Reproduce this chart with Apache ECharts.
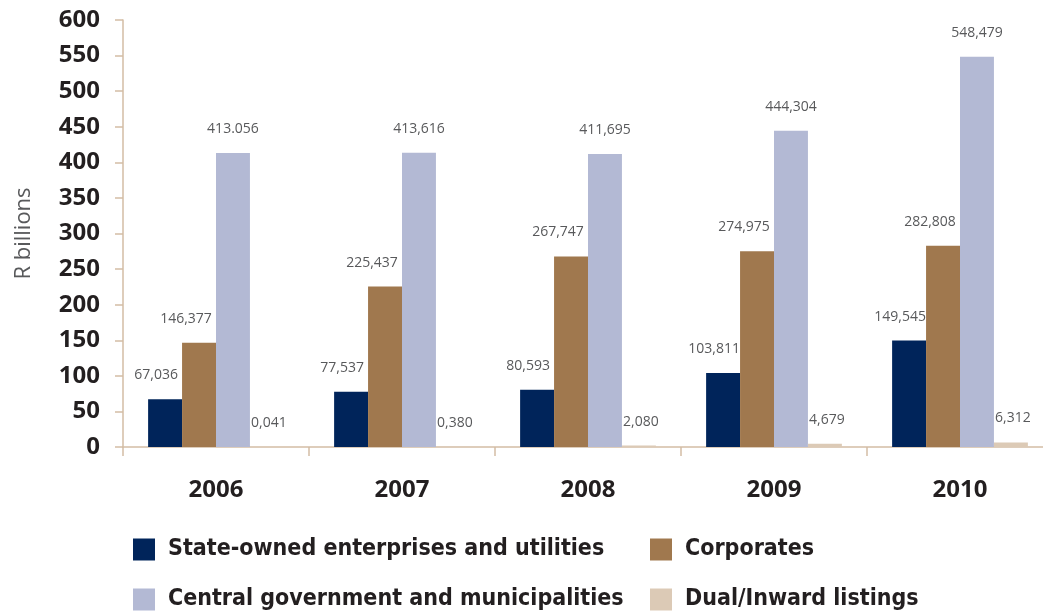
<!DOCTYPE html>
<html>
<head>
<meta charset="utf-8">
<script src="https://cdn.jsdelivr.net/npm/echarts@6/dist/echarts.min.js"></script>
<style>
  html, body { margin: 0; padding: 0; background: #ffffff; }
  #chart { width: 1043px; height: 613px; }
</style>
</head>
<body>
<div id="chart"></div>
<script>
// Bond market holdings by issuer type, R billions
const years = ['2006', '2007', '2008', '2009', '2010'];
const stateOwned = [67.036, 77.537, 80.593, 103.811, 149.545];
const corporates = [146.377, 225.437, 267.747, 274.975, 282.808];
const centralGov = [413.056, 413.616, 411.695, 444.304, 548.479];
const dualInward = [0.041, 0.380, 2.080, 4.679, 6.312];
// decimal mark used in each printed value of the central government series
const centralMarks = ['.', ',', ',', ',', ','];
const yTicks = { min: 0, max: 600, interval: 50 };

const names = {
  soe: 'State-owned enterprises and utilities',
  corp: 'Corporates',
  gov: 'Central government and municipalities',
  dual: 'Dual/Inward listings'
};

const axisTan = '#d3bda5';
const inkDark = '#231f20';

function valueText(v, mark) {
  return v.toFixed(3).replace('.', mark || ',');
}

function series(name, data, color, dx, marks) {
  return {
    name: name,
    type: 'bar',
    data: data,
    barGap: '0%',
    barCategoryGap: '27%',
    itemStyle: { color: color },
    label: {
      show: true,
      position: 'top',
      distance: 17,
      offset: [dx, 0],
      color: '#58595b',
      fontFamily: 'Open Sans',
      fontSize: 14,
      formatter: p => valueText(p.value, marks ? marks[p.dataIndex] : ',')
    }
  };
}

// one legend entry per block so the two columns line up
function legendItem(name, left, top) {
  return {
    left: left, top: top,
    itemWidth: 22, itemHeight: 22,
    icon: 'rect',
    data: [name],
    textStyle: {
      color: inkDark,
      fontFamily: 'DejaVu Sans Condensed',
      fontWeight: 'bold',
      fontSize: 23,
      padding: [0, 0, 0, 8]
    }
  };
}

const chart = echarts.init(document.getElementById('chart'), null, { renderer: 'canvas' });

chart.setOption({
  animation: false,
  grid: {
    left: 123, right: -10, top: 20, bottom: 166,
    outerBoundsMode: 'none'
  },
  legend: [
    legendItem(names.soe, 128, 533),
    legendItem(names.corp, 645, 533),
    legendItem(names.gov, 128, 583),
    legendItem(names.dual, 645, 583)
  ],
  xAxis: {
    type: 'category',
    data: years,
    axisLine: { show: true, lineStyle: { color: axisTan, width: 1.5 } },
    axisTick: { show: true, length: 9, lineStyle: { color: axisTan, width: 1.5 } },
    axisLabel: {
      margin: 31,
      color: inkDark,
      fontFamily: 'Open Sans',
      fontWeight: 'bold',
      fontSize: 24
    }
  },
  yAxis: {
    type: 'value',
    min: yTicks.min,
    max: yTicks.max,
    interval: yTicks.interval,
    name: 'R billions',
    nameLocation: 'middle',
    nameGap: 88,
    nameTextStyle: {
      color: '#58595b',
      fontFamily: 'Open Sans',
      fontSize: 22
    },
    splitLine: { show: false },
    axisLine: { show: true, lineStyle: { color: axisTan, width: 1.5 } },
    axisTick: { show: true, length: 8, lineStyle: { color: axisTan, width: 1.5 } },
    axisLabel: {
      margin: 23,
      color: inkDark,
      fontFamily: 'Open Sans',
      fontWeight: 'bold',
      fontSize: 24
    }
  },
  series: [
    series(names.soe, stateOwned, '#00245a', -9),
    series(names.corp, corporates, '#a0784e', -13),
    series(names.gov, centralGov, '#b3b9d4', 0, centralMarks),
    series(names.dual, dualInward, '#dccab6', 2)
  ]
});
</script>
</body>
</html>
